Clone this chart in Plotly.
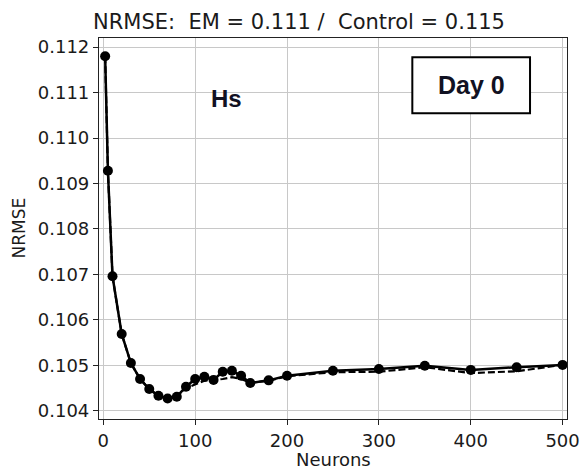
import plotly.graph_objects as go

neurons = [2, 5, 10, 20, 30, 40, 50, 60, 70, 80, 90, 100, 110, 120, 130, 140,
           150, 160, 180, 200, 250, 300, 350, 400, 450, 500]
nrmse_solid = [0.1118, 0.10928, 0.10696, 0.10569, 0.10505, 0.10470, 0.10448, 0.10433,
               0.10427, 0.10431, 0.10453, 0.10470, 0.10475, 0.10468, 0.10486, 0.10488,
               0.10477, 0.10461, 0.10467, 0.10477, 0.10488, 0.10492, 0.10499, 0.10490,
               0.10496, 0.10501]
nrmse_dashed = [0.1118, 0.10928, 0.10696, 0.10569, 0.10505, 0.10470, 0.10448, 0.10433,
                0.10427, 0.10431, 0.10450, 0.10458, 0.10466, 0.10468, 0.10470, 0.10474,
                0.10470, 0.10462, 0.10466, 0.10476, 0.10485, 0.10486, 0.10496, 0.10483,
                0.10487, 0.10501]
y_ticks = [0.104, 0.105, 0.106, 0.107, 0.108, 0.109, 0.110, 0.111, 0.112]
x_ticks = [0, 100, 200, 300, 400, 500]
title_text = "NRMSE:  EM = 0.111 /  Control = 0.115"
x_title = "Neurons"
y_title = "NRMSE"

font = "DejaVu Sans"
fig = go.Figure()
fig.add_trace(go.Scatter(x=neurons, y=nrmse_dashed, mode="lines",
                         line=dict(color="black", width=2.2, dash="7px,3px"),
                         showlegend=False))
fig.add_trace(go.Scatter(x=neurons, y=nrmse_solid, mode="lines+markers",
                         line=dict(color="black", width=2.5),
                         marker=dict(color="black", size=10),
                         showlegend=False))

axis_common = dict(showline=True, mirror=True, linecolor="#222222", linewidth=1.2,
                   ticks="outside", ticklen=5, tickcolor="#222222",
                   showgrid=True, gridcolor="#c8c8c8", gridwidth=1, zeroline=False,
                   automargin=False,
                   tickfont=dict(family=font, size=18, color="#1a1a1a"))

fig.update_xaxes(range=[-4.7, 504.8], tickvals=x_ticks, **axis_common)
fig.update_yaxes(range=[0.10382, 0.1122], tickvals=y_ticks, tickformat=".3f",
                 **axis_common)

fig.add_annotation(text=x_title, xref="paper", yref="paper", x=0.5, y=-0.1076,
                   xanchor="center", yanchor="middle", showarrow=False,
                   font=dict(family=font, size=18, color="#1a1a1a"))
fig.add_annotation(text=y_title, xref="paper", yref="paper", x=-0.173, y=0.5,
                   xanchor="center", yanchor="middle", showarrow=False, textangle=-90,
                   font=dict(family=font, size=17, color="#1a1a1a"))
fig.add_annotation(text=title_text, xref="paper", yref="paper", x=0.428, y=1.042,
                   xanchor="center", yanchor="middle", showarrow=False,
                   font=dict(family=font, size=21, color="#1a1a1a"))
fig.add_annotation(text="<b>Hs</b>", xref="x", yref="y", x=134, y=0.11088,
                   xanchor="center", yanchor="middle", showarrow=False,
                   font=dict(family="Liberation Sans", size=24, color="#111122"))
fig.add_shape(type="rect", xref="paper", yref="paper", x0=0.6695, x1=0.921,
              y0=0.8024, y1=0.9493, line=dict(color="black", width=2),
              fillcolor="white", layer="above")
fig.add_annotation(text="<b>Day 0</b>", xref="paper", yref="paper", x=(0.6695 + 0.921) / 2,
                   y=(0.8024 + 0.9493) / 2, xanchor="center", yanchor="middle",
                   showarrow=False, font=dict(family="Liberation Sans", size=25, color="#111122"))

fig.update_layout(width=581, height=471, margin=dict(l=99, r=14, t=38, b=52),
                  plot_bgcolor="white", paper_bgcolor="white")
fig.write_html("out.html")
